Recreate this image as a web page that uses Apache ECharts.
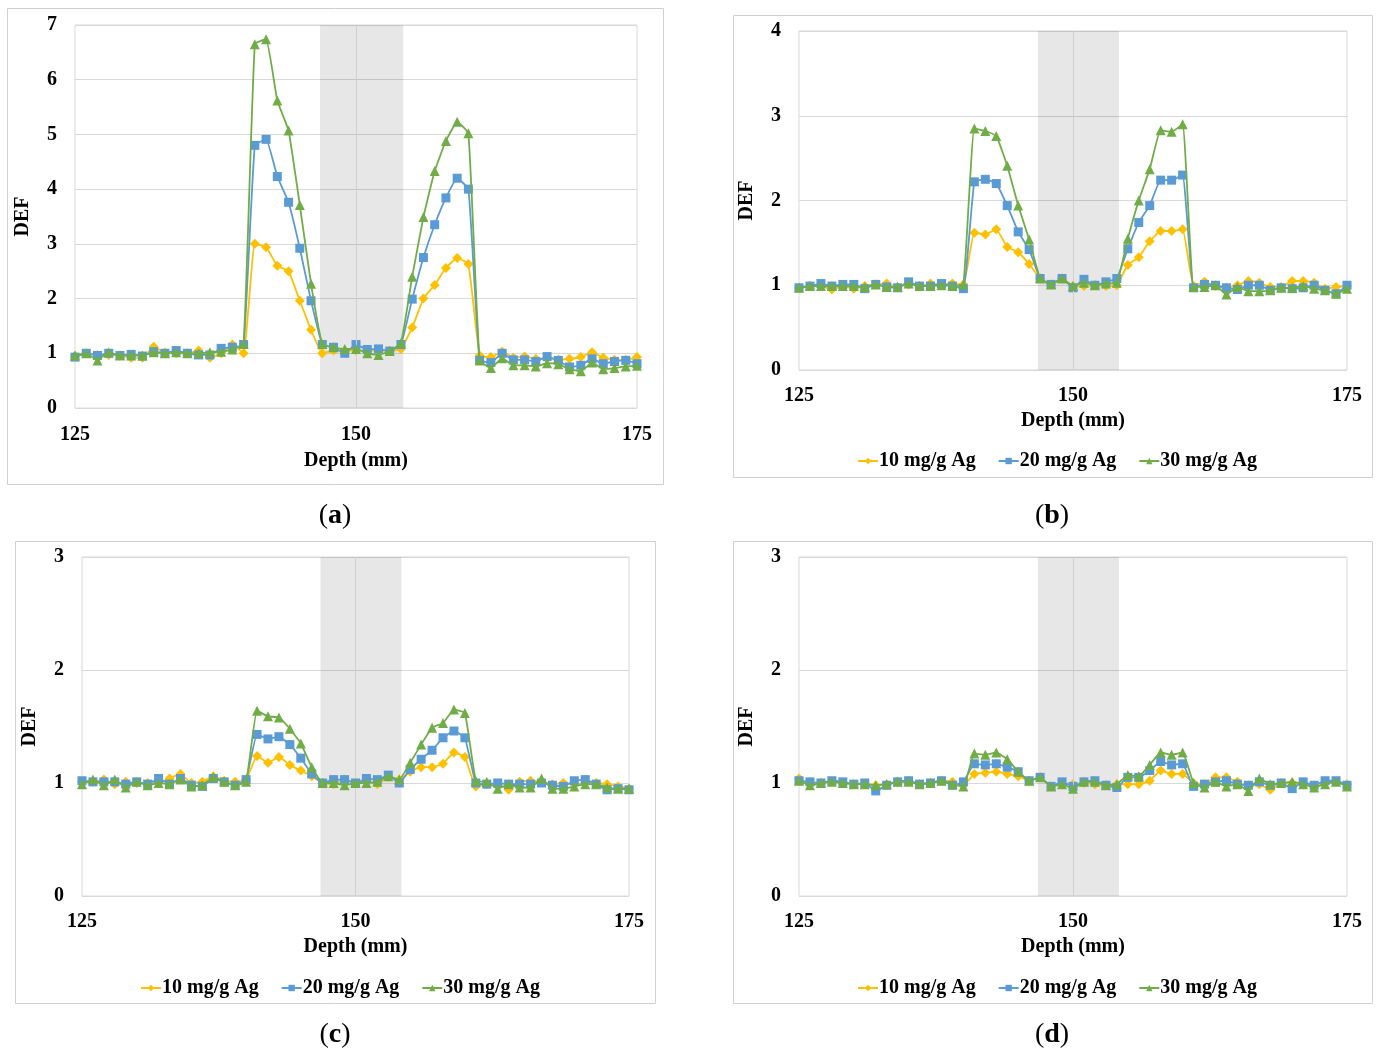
<!DOCTYPE html>
<html>
<head>
<meta charset="utf-8">
<title>DEF vs Depth</title>
<script src="https://cdn.jsdelivr.net/npm/echarts@6/dist/echarts.min.js"></script>
<style>
  html, body { margin: 0; padding: 0; background: #fff; }
  #chart { width: 1379px; height: 1052px; }
</style>
</head>
<body>
<div id="chart"></div>
<script>
// Depth positions (mm)
const depth = [125,126,127,128,129,130,131,132,133,134,135,136,137,138,139,140,141,142,143,144,145,146,147,148,149,150,
  151,152,153,154,155,156,157,158,159,160,161,162,163,164,165,166,167,168,169,170,171,172,173,174,175];

const seriesNames = ['10 mg/g Ag', '20 mg/g Ag', '30 mg/g Ag'];
const panelLetters = ['a', 'b', 'c', 'd'];
const yMax = [7, 4, 3, 3];

// Panel (a)
const a10 = [0.95,1.0,0.97,0.97,0.96,0.92,0.92,1.12,1.01,1.0,1.0,1.05,0.92,1.0,1.16,1.0,3.0,2.94,2.6,2.5,1.96,1.43,1.0,1.05,1.05,1.05,
  1.05,1.05,1.04,1.08,1.47,2.0,2.25,2.56,2.74,2.63,0.96,0.93,1.03,0.92,0.94,0.9,0.9,0.88,0.9,0.93,1.02,0.92,0.88,0.88,0.93];
const a20 = [0.93,1.0,0.96,1.0,0.96,0.98,0.95,1.03,1.0,1.05,1.0,0.97,0.97,1.09,1.11,1.16,4.8,4.91,4.23,3.76,2.92,1.96,1.16,1.11,1.0,1.16,
  1.07,1.08,1.04,1.16,1.99,2.75,3.35,3.84,4.2,4.0,0.87,0.83,1.0,0.88,0.88,0.85,0.94,0.87,0.75,0.78,0.9,0.81,0.85,0.87,0.81];
const a30 = [0.96,1.0,0.87,1.02,0.96,0.96,0.96,1.02,1.0,1.02,1.0,1.0,1.02,1.03,1.07,1.17,6.65,6.74,5.62,5.07,3.71,2.27,1.17,1.11,1.08,1.08,
  1.0,0.97,1.04,1.19,2.4,3.49,4.33,4.88,5.23,5.02,0.87,0.73,0.91,0.78,0.78,0.76,0.82,0.8,0.71,0.67,0.83,0.71,0.73,0.76,0.77];

// Panel (b)
const b10 = [0.97,0.99,0.99,0.95,0.99,0.96,0.99,1.01,1.02,0.98,1.01,0.99,1.02,1.01,1.02,1.01,1.62,1.6,1.66,1.45,1.39,1.25,1.08,1.01,1.08,0.99,
  0.99,1.0,0.99,1.0,1.24,1.33,1.52,1.64,1.64,1.66,0.99,1.04,0.99,0.97,1.0,1.05,1.03,0.98,0.98,1.05,1.05,1.03,0.96,0.98,0.99];
const b20 = [0.97,0.99,1.02,0.99,1.01,1.01,0.96,1.01,0.98,0.97,1.04,0.99,0.99,1.02,0.99,0.96,2.22,2.25,2.2,1.94,1.63,1.42,1.08,1.01,1.08,0.97,
  1.07,1.0,1.04,1.08,1.43,1.74,1.94,2.24,2.24,2.3,0.97,1.01,1.0,0.97,0.95,1.0,1.0,0.94,0.97,0.96,0.97,1.0,0.94,0.9,1.0];
const b30 = [0.97,0.99,0.99,0.99,0.99,0.99,0.98,1.01,0.98,0.98,1.02,0.99,0.99,1.0,0.99,1.01,2.85,2.82,2.76,2.41,1.94,1.54,1.08,1.01,1.08,0.99,
  1.03,1.0,1.02,1.03,1.55,2.0,2.37,2.83,2.81,2.9,0.98,0.98,1.0,0.89,0.98,0.93,0.93,0.94,0.97,0.97,0.99,0.96,0.94,0.9,0.96];

// Panel (c)
const c10 = [1.01,1.01,1.03,0.99,1.01,1.0,1.0,1.0,1.04,1.08,1.0,1.01,1.06,1.02,1.01,1.03,1.24,1.18,1.23,1.16,1.11,1.06,1.0,0.99,1.03,1.0,
  1.02,0.99,1.05,1.03,1.1,1.14,1.14,1.17,1.27,1.23,0.97,0.99,0.99,0.94,1.01,1.02,1.01,0.99,1.0,0.99,1.0,1.0,0.99,0.97,0.95];
const c20 = [1.02,1.01,1.01,1.01,0.99,1.01,0.99,1.04,0.99,1.04,0.98,0.97,1.04,1.01,0.98,1.03,1.43,1.39,1.41,1.34,1.22,1.08,1.0,1.03,1.03,1.0,
  1.04,1.03,1.07,1.0,1.12,1.21,1.29,1.4,1.46,1.4,1.0,0.99,1.0,0.99,0.99,0.99,1.0,0.98,0.97,1.02,1.03,0.99,0.94,0.95,0.94];
const c30 = [0.99,1.03,0.98,1.03,0.96,1.01,0.98,1.0,0.99,1.03,0.97,0.98,1.05,1.01,0.98,1.01,1.64,1.59,1.58,1.48,1.35,1.14,1.0,1.0,0.98,1.0,
  1.0,1.01,1.06,1.03,1.18,1.34,1.49,1.53,1.65,1.62,1.02,1.01,0.95,0.99,0.96,0.96,1.04,0.95,0.95,0.97,0.99,0.99,0.96,0.95,0.95];

// Panel (d)
const d10 = [1.04,0.99,1.0,1.01,1.0,0.99,0.99,0.98,0.99,1.01,1.02,0.99,1.0,1.02,1.01,0.98,1.08,1.09,1.1,1.08,1.06,1.02,1.05,0.97,0.99,0.99,
  1.0,0.99,0.98,0.99,0.99,0.99,1.02,1.11,1.08,1.08,1.0,0.99,1.05,1.05,1.01,0.98,0.99,0.94,1.0,1.0,0.99,0.98,1.0,1.01,0.99];
const d20 = [1.02,1.01,1.0,1.02,1.01,0.99,1.0,0.93,0.98,1.01,1.02,0.99,1.0,1.02,0.98,1.01,1.17,1.16,1.17,1.14,1.1,1.02,1.05,0.97,1.01,0.97,
  1.01,1.02,0.98,0.96,1.05,1.05,1.11,1.19,1.16,1.17,0.97,0.99,1.01,1.02,0.99,0.98,1.01,0.98,1.0,0.95,1.01,0.98,1.02,1.02,0.98];
const d30 = [1.02,0.98,1.0,1.01,1.0,0.99,0.99,0.98,0.99,1.01,1.01,0.99,1.0,1.02,0.99,0.97,1.26,1.25,1.27,1.21,1.1,1.02,1.05,0.97,0.99,0.95,
  1.01,1.01,0.98,0.99,1.07,1.06,1.16,1.27,1.25,1.27,1.0,0.96,1.01,0.97,0.99,0.93,1.04,0.99,1.0,1.01,0.99,0.96,0.99,1.01,0.97];

// Shaded region and centre line (mm)
const bandStart = 146.8, bandEnd = 154.2, centreLine = 150;

const panelData = [[a10, a20, a30], [b10, b20, b30], [c10, c20, c30], [d10, d20, d30]];

const FONT = '"Liberation Serif", "Times New Roman", serif';
const colors = ['#FFC000', '#5B9BD5', '#70AD47'];
const symbols = ['diamond', 'rect', 'triangle'];
const symbolSizes = [10, 9, 10];

// plot areas and surrounding boxes (px)
const grids = [
  { left: 75,  top: 25,  width: 562, height: 383 },
  { left: 799, top: 31,  width: 548, height: 339 },
  { left: 82,  top: 557, width: 547, height: 339 },
  { left: 799, top: 557, width: 548, height: 339 }
];
const boxes = [
  { x: 7,   y: 8,   w: 656, h: 476 },
  { x: 733, y: 15,  w: 639, h: 462 },
  { x: 15,  y: 541, w: 640, h: 462 },
  { x: 733, y: 541, w: 639, h: 462 }
];
const letterPos = [[335, 516], [1052, 516], [335, 1035], [1052, 1035]];
const legendPos = [null, { left: 852, top: 446 }, { left: 135, top: 973 }, { left: 852, top: 973 }];

const labelStyle = { fontFamily: FONT, fontWeight: 'bold', fontSize: 20, color: '#000' };

const option = {
  backgroundColor: '#fff',
  animation: false,
  grid: grids.map(g => Object.assign({ show: true, borderColor: '#d9d9d9', borderWidth: 1, backgroundColor: 'transparent' }, g)),
  xAxis: grids.map((g, k) => ({
    type: 'value', gridIndex: k, min: 125, max: 175, interval: 25,
    name: 'Depth (mm)', nameLocation: 'middle', nameGap: k === 0 ? 43 : 41,
    nameTextStyle: labelStyle,
    axisLine: { show: false }, axisTick: { show: false },
    splitLine: { show: false },
    axisLabel: Object.assign({ margin: k === 0 ? 17 : 16 }, labelStyle)
  })),
  yAxis: grids.map((g, k) => ({
    type: 'value', gridIndex: k, min: 0, max: yMax[k], interval: 1,
    name: 'DEF', nameLocation: 'middle', nameGap: 42, nameRotate: 90,
    nameTextStyle: labelStyle,
    axisLine: { show: false }, axisTick: { show: false },
    splitLine: { show: true, lineStyle: { color: '#d9d9d9', width: 1 } },
    axisLabel: Object.assign({ margin: 18 }, labelStyle)
  })),
  legend: [1, 2, 3].map(k => ({
    data: seriesNames,
    left: legendPos[k].left, top: legendPos[k].top,
    orient: 'horizontal', itemGap: 22, itemWidth: 20, itemHeight: 8,
    textStyle: Object.assign({ padding: [0, 0, 0, -4] }, labelStyle),
    selectedMode: false
  })),
  graphic: boxes.map(b => ({
    type: 'rect', silent: true, z: -10,
    shape: { x: b.x + 0.5, y: b.y + 0.5, width: b.w, height: b.h },
    style: { fill: 'none', stroke: '#d0d0d0', lineWidth: 1 }
  })).concat(letterPos.map((p, k) => ({
    type: 'text', silent: true, x: p[0], y: p[1],
    style: {
      text: '{p|(}{b|' + panelLetters[k] + '}{p|)}',
      align: 'center', verticalAlign: 'middle',
      rich: {
        p: { fontFamily: FONT, fontSize: 28, fill: '#000' },
        b: { fontFamily: FONT, fontSize: 28, fontWeight: 'bold', fill: '#000' }
      }
    }
  }))),
  series: []
};

grids.forEach((g, k) => {
  // shaded band and centre line behind the data
  option.series.push({
    type: 'line', xAxisIndex: k, yAxisIndex: k, data: [], silent: true, z: 1,
    markArea: {
      silent: true,
      itemStyle: { color: 'rgba(0,0,0,0.095)' },
      data: [[{ xAxis: bandStart }, { xAxis: bandEnd }]]
    },
    markLine: {
      silent: true, symbol: ['none', 'none'], label: { show: false },
      lineStyle: { color: '#cfcfcf', type: 'solid', width: 1 },
      data: [{ xAxis: centreLine }]
    }
  });
  panelData[k].forEach((vals, s) => {
    option.series.push({
      name: seriesNames[s], type: 'line', xAxisIndex: k, yAxisIndex: k, z: 3 + s,
      data: depth.map((d, i) => [d, vals[i]]),
      symbol: symbols[s], symbolSize: symbolSizes[s], showAllSymbol: true,
      smooth: 0.12,
      itemStyle: { color: colors[s] },
      lineStyle: { color: colors[s], width: 1.8 }
    });
  });
});

const chart = echarts.init(document.getElementById('chart'), null, { renderer: 'canvas' });
chart.setOption(option);
</script>
</body>
</html>
